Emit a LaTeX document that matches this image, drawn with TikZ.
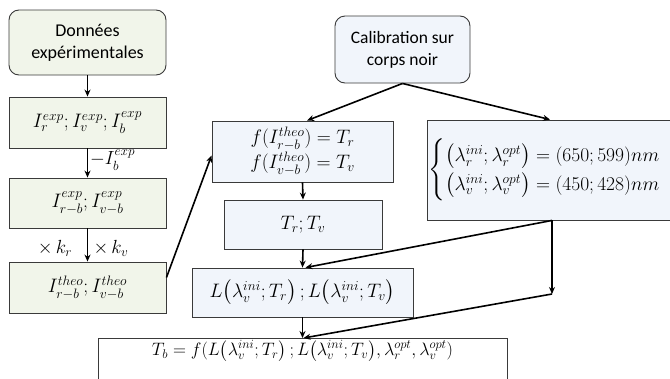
\RequirePackage{fix-cm}
\documentclass[tikz,border=0pt]{standalone}
\usepackage{amsmath}
\usepackage[no-math]{fontspec}
\setmainfont{Carlito}
\usetikzlibrary{arrows.meta}
\definecolor{boxgreen}{HTML}{F1F5EA}
\definecolor{boxblue}{HTML}{F1F5FB}
\definecolor{edge}{HTML}{3A3A3A}
\tikzset{
  base/.style={draw=edge, line width=0.9pt, inner sep=0pt, align=center, font=\fontsize{18}{22}\selectfont},
  mth/.style={font=\fontsize{19.5}{24}\selectfont},
  gbox/.style={base, fill=boxgreen},
  bbox/.style={base, fill=boxblue},
  arr/.style={line width=1.6pt, -{Stealth[length=7pt,width=6pt]}},
  lbl/.style={font=\fontsize{19}{23}\selectfont, inner sep=0pt}
}
\begin{document}
\begin{tikzpicture}[x=1pt,y=-1pt]
\useasboundingbox (0,0) rectangle (670,378);
% left column
\node[gbox, rounded corners=10pt, minimum width=157pt, minimum height=65pt] (don) at (87.5,42.5) {Données\\expérimentales};
\node[gbox, mth, minimum width=157pt, minimum height=51pt] (iexp) at (87.5,122.5) {$I_r^{exp};I_v^{exp};I_b^{exp}$};
\node[gbox, mth, minimum width=157pt, minimum height=50pt] (irb) at (87.5,203) {$I_{r-b}^{exp};I_{v-b}^{exp}$};
\node[gbox, mth, minimum width=157pt, minimum height=51pt] (ith) at (87.5,287.5) {$I_{r-b}^{theo};I_{v-b}^{theo}$};
% middle column
\node[bbox, font=\fontsize{17.5}{22}\selectfont, rounded corners=10pt, minimum width=135pt, minimum height=67pt] (cal) at (402.5,49.5) {Calibration sur\\corps noir};
\node[bbox, mth, minimum width=181pt, minimum height=61pt] (fbox) at (302.5,151.5) {$f(I_{r-b}^{theo}) = T_r$\\[1pt]$f(I_{v-b}^{theo}) = T_v$};
\node[bbox, mth, minimum width=158pt, minimum height=49pt] (tbox) at (303,224.5) {$T_r;T_v$};
\node[bbox, mth, minimum width=221pt, minimum height=49pt] (lbox) at (302.5,292.5) {$L\bigl(\lambda_v^{ini};T_r\bigr)\,;L\bigl(\lambda_v^{ini};T_v\bigr)$};
% right box
\node[bbox, mth, minimum width=263pt, minimum height=100pt, text width=260pt, align=left] (rbox) at (558.5,170) {$\begin{cases}\bigl(\lambda_r^{ini};\lambda_r^{opt}\bigr) = (650;599)nm\\ \bigl(\lambda_v^{ini};\lambda_v^{opt}\bigr) = (450;428)nm\end{cases}$};
% bottom box
\node[base, fill=white, anchor=north, minimum width=409pt, text height=14pt, text depth=40pt, inner ysep=3pt] (tb) at (302.5,338) {$T_b = f(L\bigl(\lambda_v^{ini};T_r\bigr)\,;L\bigl(\lambda_v^{ini};T_v\bigr),\lambda_r^{opt},\lambda_v^{opt})$};
\coordinate (m) at (552,294);
% labels
\node[lbl, anchor=west] (l1) at (90,160) {$-I_b^{exp}$};
\node[lbl] (l2) at (55,248) {$\times\,k_r$};
\node[lbl] (l3) at (111,248) {$\times\,k_v$};
% arrows
\draw[arr] (don.south) -- (iexp.north);
\draw[arr] (iexp.south) -- (irb.north);
\draw[arr] (irb.south) -- (ith.north);
\draw[arr] ([yshift=10pt]ith.east) -- ([yshift=-4pt]fbox.west);
\draw[arr] (cal.south) -- ([xshift=4.5pt]fbox.north);
\draw[arr] (cal.south) -- ([xshift=-8.5pt]rbox.north);
\draw[arr] (fbox.south) -- (tbox.north);
\draw[arr] (tbox.south) -- (lbox.north);
\draw[arr] ([xshift=-6.5pt]rbox.south) -- ([xshift=3pt]lbox.north);
\draw[arr] ([xshift=-6.5pt]rbox.south) -- (m);
\draw[arr] (m) -- ([xshift=1pt]tb.north);
\draw[arr] (lbox.south) -- (tb.north);
\end{tikzpicture}
\end{document}
